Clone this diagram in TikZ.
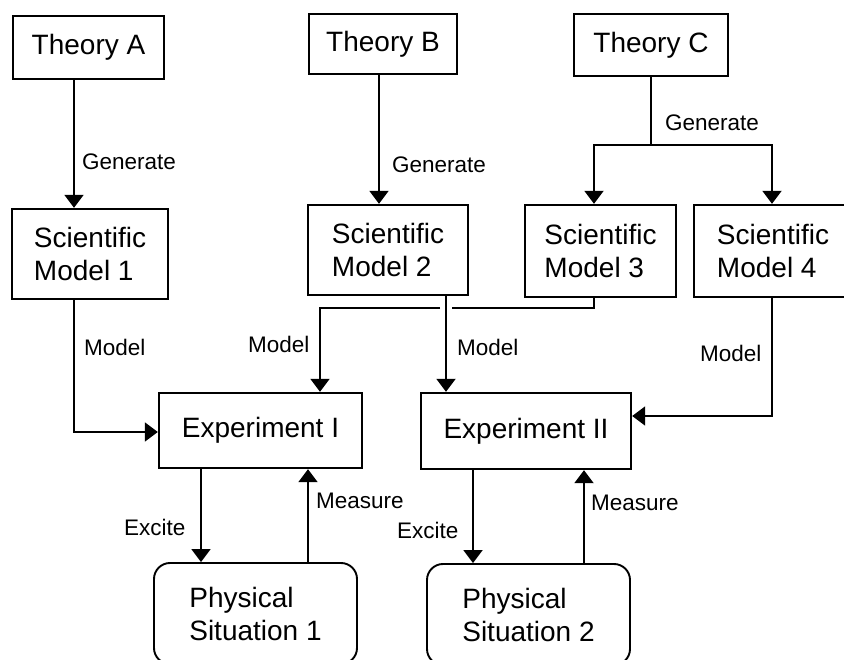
\documentclass[tikz,border=0pt]{standalone}
\usepackage{fontspec}
\setmainfont{Liberation Sans}
\usetikzlibrary{arrows.meta}
\begin{document}
\begin{tikzpicture}[x=1pt,y=-1pt,
  box/.style={draw, line width=2.4pt, rectangle, inner sep=0pt, font=\fontsize{28}{33}\selectfont, align=left},
  rbox/.style={box, line width=1.9pt, rounded corners=16pt},
  lbl/.style={anchor=west, inner sep=0pt, font=\fontsize{22.5}{26}\selectfont},
  arr/.style={line width=2pt, -{Triangle[length=13pt,width=19pt]}},
  ln/.style={line width=2pt}]
\useasboundingbox (0,0) rectangle (844,660);
\clip (0,0) rectangle (844,660);
% boxes
\node[box, minimum width=151pt, minimum height=63pt] (thA) at (88.5,47.5) {Theory A};
\node[box, minimum width=148pt, minimum height=60pt] (thB) at (383,44) {Theory B};
\node[box, minimum width=154pt, minimum height=62pt] (thC) at (651,45) {Theory C};
\node[box, minimum width=156pt, minimum height=90pt] (sm1) at (90,254) {Scientific\\Model 1};
\node[box, minimum width=160pt, minimum height=90pt] (sm2) at (388,250) {Scientific\\Model 2};
\node[box, minimum width=151pt, minimum height=92pt] (sm3) at (600.5,251) {Scientific\\Model 3};
\node[box, minimum width=158pt, minimum height=92pt] (sm4) at (773,251) {Scientific\\Model 4};
\node[box, minimum width=203pt, minimum height=75pt] (ex1) at (260.5,430.5) {Experiment I};
\node[box, minimum width=210pt, minimum height=76pt] (ex2) at (526,431) {Experiment II};
\node[rbox, minimum width=203pt, minimum height=101pt] (ps1) at (255.5,613.5) {Physical\\Situation 1};
\node[rbox, minimum width=203pt, minimum height=101pt] (ps2) at (528.5,614.5) {Physical\\Situation 2};
% helper coordinates
\coordinate (xa) at (74,0);
\coordinate (xb) at (379,0);
\coordinate (x3) at (594,0);
\coordinate (x4) at (772,0);
\coordinate (xm1) at (320,0);
\coordinate (xm2) at (446,0);
\coordinate (xe1) at (201,0);
\coordinate (xq1) at (308,0);
\coordinate (xe2) at (473,0);
\coordinate (xq2) at (584,0);
\coordinate (jC) at (651,145);
\coordinate (gR) at (452,308);
\coordinate (gL) at (440,308);
\coordinate (y4) at (0,416);
\coordinate (y1) at (0,432);
% connectors
\draw[arr] (xa |- thA.south) -- (xa |- sm1.north);
\draw[arr] (xb |- thB.south) -- (xb |- sm2.north);
\draw[ln] (thC.south) -- (jC);
\draw[arr] (jC) -| (x3 |- sm3.north);
\draw[arr] (jC) -| (x4 |- sm4.north);
\draw[arr] (xa |- sm1.south) |- (ex1.west |- y1);
\draw[ln] (x3 |- sm3.south) |- (gR);
\draw[arr] (gL) -| (xm1 |- ex1.north);
\draw[arr] (xm2 |- sm2.south) -- (xm2 |- ex2.north);
\draw[arr] (x4 |- sm4.south) |- (ex2.east |- y4);
\draw[arr] (xe1 |- ex1.south) -- (xe1 |- ps1.north);
\draw[arr] (xq1 |- ps1.north) -- (xq1 |- ex1.south);
\draw[arr] (xe2 |- ex2.south) -- (xe2 |- ps2.north);
\draw[arr] (xq2 |- ps2.north) -- (xq2 |- ex2.south);
% labels
\node[lbl] (lgA) at (82,162) {Generate};
\node[lbl] (lgB) at (392,165) {Generate};
\node[lbl] (lgC) at (665,123) {Generate};
\node[lbl] (lm1) at (84,347) {Model};
\node[lbl] (lm3) at (248,344) {Model};
\node[lbl] (lm2) at (457,347) {Model};
\node[lbl] (lm4) at (700,353) {Model};
\node[lbl] (le1) at (124,527) {Excite};
\node[lbl] (lq1) at (316,501) {Measure};
\node[lbl] (le2) at (397,530) {Excite};
\node[lbl] (lq2) at (591,503) {Measure};
\end{tikzpicture}
\end{document}
